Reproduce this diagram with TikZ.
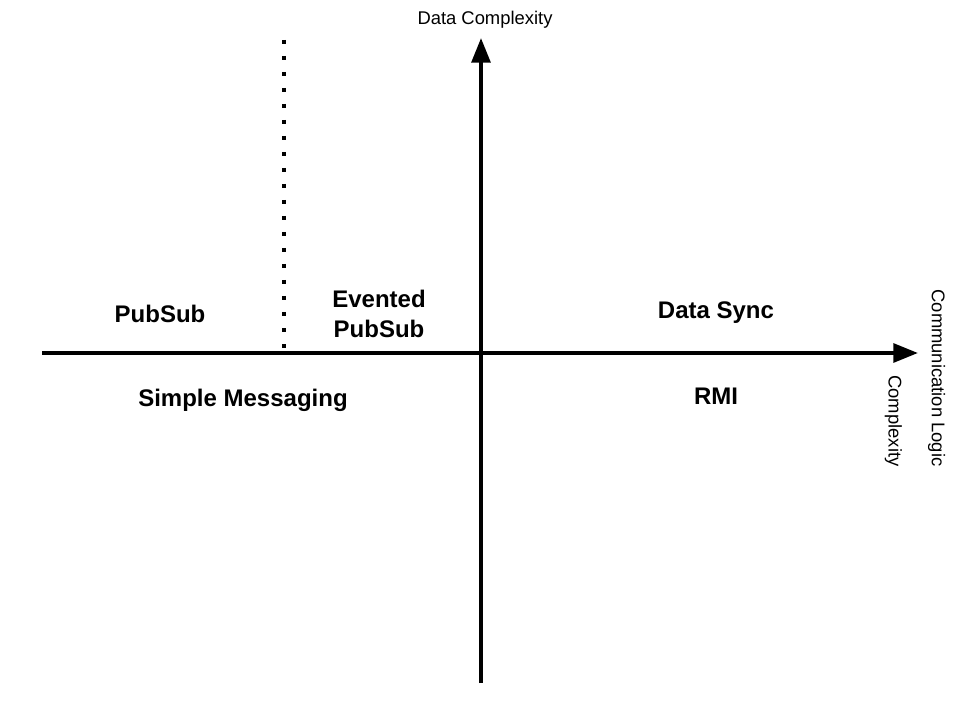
\documentclass[tikz,border=0pt]{standalone}
\usepackage{fontspec}
\setmainfont{Liberation Sans}
\usetikzlibrary{arrows.meta}
\tikzset{
    >={Triangle[length=18.5pt, width=14pt]} % Default arrow tip
}
\tikzstyle{axis}=[->, line width=3pt]
\tikzstyle{divider}=[line width=3pt, dash pattern=on 3pt off 9pt]
\tikzstyle{region}=[font=\fontsize{18}{22.5}\selectfont\bfseries, align=center, anchor=base]
\tikzstyle{axislabel}=[font=\fontsize{13.8}{16.5}\selectfont]

\begin{document}
\begin{tikzpicture}[x=0.75pt, y=-0.75pt]
    \useasboundingbox (0,0) rectangle (960,720);

    % axes
    \coordinate (west)  at (42,353);
    \coordinate (east)  at (918,353);
    \coordinate (south) at (481,683);
    \coordinate (north) at (481,38);
    \draw [axis] (west) -- (east);
    \draw [axis] (south) -- (north);

    % dotted divider
    \coordinate (divtop) at (284,40);
    \coordinate (divbot) at (284,348);
    \draw [divider] (divtop) -- (divbot);

    % axis labels
    \node [axislabel] (datacx) at (485,20) {Data Complexity};
    \node [axislabel, rotate=-90, align=right] (commcx) at (915,378)
        {Communication Logic\\[16pt] Complexity};

    % regions
    \node [region] (pubsub)  at (160,322) {PubSub};
    \node [region] (evented) at (379,337) {Evented\\PubSub};
    \node [region] (datasync) at (716,318) {Data Sync};
    \node [region] (simple)  at (243,406) {Simple Messaging};
    \node [region] (rmi)     at (716,404) {RMI};
\end{tikzpicture}
\end{document}
